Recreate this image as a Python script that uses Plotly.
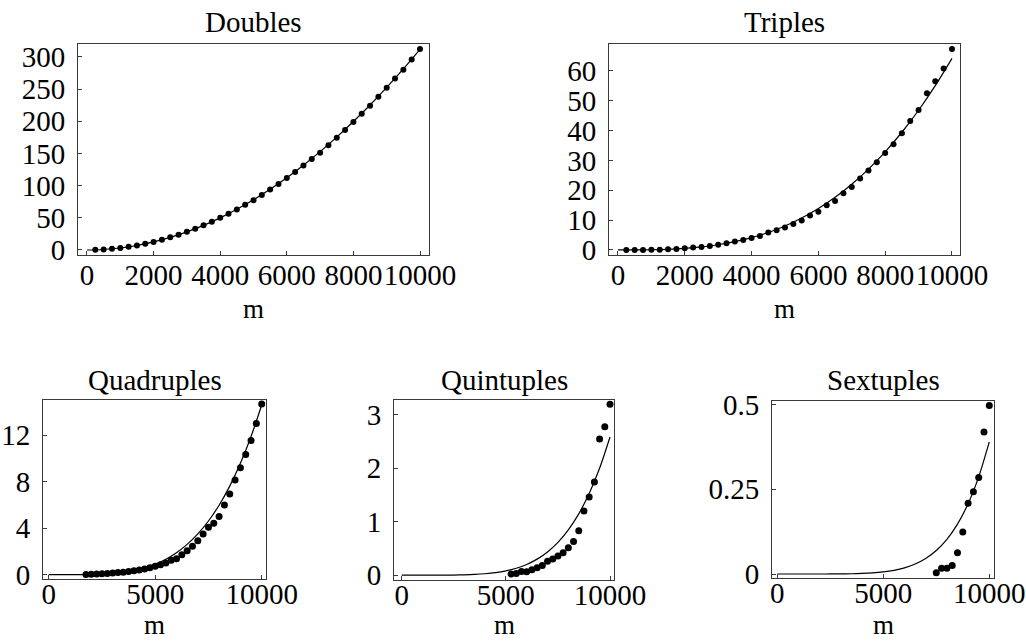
import plotly.graph_objects as go

W, H = 1026, 641

# sample sizes m for the counted points (shared grid, 250 .. 10000)
M_ALL = [250, 500, 750, 1000, 1250, 1500, 1750, 2000, 2250, 2500,
         2750, 3000, 3250, 3500, 3750, 4000, 4250, 4500, 4750, 5000,
         5250, 5500, 5750, 6000, 6250, 6500, 6750, 7000, 7250, 7500,
         7750, 8000, 8250, 8500, 8750, 9000, 9250, 9500, 9750, 10000]

# m grid for the fitted curves
M_FIT = [0, 500, 1000, 1500, 2000, 2500, 3000, 3500, 4000, 4500, 5000,
         5500, 6000, 6500, 7000, 7500, 8000, 8500, 9000, 9500, 10000]

doubles = [0.2, 0.8, 1.8, 3.1, 4.9, 7.1, 9.7, 12.6, 15.9, 19.6,
           23.7, 28.2, 33.1, 38.4, 44.0, 50.1, 56.5, 63.0, 70.2, 77.4,
           85.6, 94.1, 102.6, 111.8, 121.4, 131.2, 141.6, 151.2, 163.0, 174.6,
           186.6, 198.8, 211.8, 224.2, 238.2, 252.0, 266.6, 280.2, 296.2, 312.6]
triples = [0.0, 0.0, 0.0, 0.05, 0.1, 0.2, 0.34, 0.56, 0.78, 1.0,
           1.34, 1.7, 2.2, 2.8, 3.35, 4.0, 4.7, 5.8, 6.6, 7.5,
           8.7, 9.9, 11.5, 12.8, 15.0, 16.4, 19.0, 21.1, 23.9, 26.6,
           29.4, 32.5, 35.4, 39.1, 43.2, 46.9, 52.5, 56.5, 60.8, 67.3]
quadruples = [0.02, 0.04, 0.06, 0.08, 0.11, 0.14, 0.18, 0.22, 0.27, 0.33,
              0.40, 0.48, 0.60, 0.72, 0.86, 1.0, 1.25, 1.38, 1.72, 2.05,
              2.45, 2.92, 3.5, 4.08, 4.42, 5.0, 6.0, 6.95, 8.15, 9.2,
              10.35, 11.55, 13.0, 14.68]
quintuples = [0.02, 0.03, 0.07, 0.066, 0.10, 0.14, 0.18, 0.26, 0.30, 0.36,
              0.42, 0.51, 0.63, 0.83, 1.20, 1.46, 1.74, 2.54, 2.77, 3.19]
sextuples = [0.004, 0.017, 0.017, 0.025, 0.063, 0.124, 0.209, 0.243, 0.285,
             0.419, 0.497]

doubles_fit = [0, 0.78, 3.12, 7.02, 12.48, 19.5, 28.08, 38.22, 49.92, 63.18, 78.0,
               94.38, 112.32, 131.82, 152.88, 175.5, 199.68, 225.42, 252.72, 281.58, 312.0]
triples_fit = [0, 0.008, 0.064, 0.217, 0.514, 1.003, 1.733, 2.753, 4.109, 5.85, 8.025,
               10.68, 13.87, 17.63, 22.02, 27.08, 32.87, 39.43, 46.80, 55.04, 64.2]
quadruples_fit = [0, 0.0001, 0.0015, 0.0074, 0.0234, 0.057, 0.118, 0.219, 0.374, 0.599, 0.913,
                  1.336, 1.892, 2.606, 3.505, 4.619, 5.98, 7.621, 9.579, 11.89, 14.6]
quintuples_fit = [0, 0, 0.00003, 0.0002, 0.0008, 0.0025, 0.0063, 0.0136, 0.0264, 0.0476, 0.0806,
                  0.1299, 0.2006, 0.2993, 0.4336, 0.6122, 0.8454, 1.1447, 1.5235, 1.9964, 2.58]
sextuples_fit = [0, 0, 0, 0, 0.00003, 0.0001, 0.0003, 0.0007, 0.0016, 0.0032, 0.0061,
                 0.0108, 0.0182, 0.0294, 0.0459, 0.0694, 0.1022, 0.1472, 0.2073, 0.2868, 0.39]

titles = ["Doubles", "Triples", "Quadruples", "Quintuples", "Sextuples"]
x_ticks_top = [0, 2000, 4000, 6000, 8000, 10000]
x_ticks_bottom = [0, 5000, 10000]
y_ticks = [
    [0, 50, 100, 150, 200, 250, 300],
    [0, 10, 20, 30, 40, 50, 60],
    [0, 4, 8, 12],
    [0, 1, 2, 3],
    [0, 0.25, 0.5],
]
y_tick_text = [
    ["0", "50", "100", "150", "200", "250", "300"],
    ["0", "10", "20", "30", "40", "50", "60"],
    ["0", "4", "8", "12"],
    ["0", "1", "2", "3"],
    ["0", "0.25", "0.5"],
]

# panel frames in pixels: (left, right, top, bottom)
frames = [
    (78, 429, 44, 255),
    (609, 960, 44, 255),
    (43, 266, 400, 579),
    (394, 614, 400, 580),
    (772, 994, 401, 578),
]
x_ranges = [[-270, 10270], [-269, 10240], [-268, 10202], [-370, 10192], [-250, 10222]]
y_ranges = [[-7.8, 320.2], [-1.7, 69.0], [-0.37, 15.03], [-0.09, 3.27], [-0.0118, 0.5106]]

series = [
    (M_ALL, doubles, doubles_fit),
    (M_ALL, triples, triples_fit),
    (M_ALL[6:], quadruples, quadruples_fit),
    (M_ALL[20:], quintuples, quintuples_fit),
    (M_ALL[29:], sextuples, sextuples_fit),
]

FONT = "Liberation Serif, Times New Roman, serif"
FS = 29
FS_M = 27
FRAME = "#3a3a3a"

fig = go.Figure()
layout = dict(
    width=W, height=H,
    margin=dict(l=0, r=0, t=0, b=0, pad=0, autoexpand=False),
    paper_bgcolor="white", plot_bgcolor="white",
    showlegend=False,
    font=dict(family=FONT, size=FS, color="black"),
)
annotations = []

for i, ((mx, vals, fit), (l, r, t, b)) in enumerate(zip(series, frames)):
    k = "" if i == 0 else str(i + 1)
    xa, ya = "x" + k, "y" + k
    top_row = i < 2
    dot = 6 if top_row else 7
    fig.add_trace(go.Scatter(
        x=M_FIT, y=fit, mode="lines", xaxis=xa, yaxis=ya,
        line=dict(color="black", width=1.2, shape="spline", smoothing=0.8),
        hoverinfo="skip"))
    fig.add_trace(go.Scatter(
        x=mx, y=vals, mode="markers", xaxis=xa, yaxis=ya,
        marker=dict(color="black", size=dot, line=dict(width=0))))

    common = dict(showgrid=False, zeroline=False, showline=True, mirror=True,
                  linecolor=FRAME, linewidth=1, ticks="inside", ticklen=4,
                  tickwidth=1, tickcolor=FRAME, automargin=False,
                  ticklabeloverflow="allow", tickangle=0,
                  tickfont=dict(family=FONT, size=FS, color="black"))
    xt = x_ticks_top if top_row else x_ticks_bottom
    layout["xaxis" + k] = dict(
        common, domain=[l / W, r / W], range=x_ranges[i], anchor=ya,
        tickmode="array", tickvals=xt, ticktext=[str(v) for v in xt],
        ticklabelstandoff=-6 if top_row else -11)
    layout["yaxis" + k] = dict(
        common, domain=[1 - b / H, 1 - t / H], range=y_ranges[i], anchor=xa,
        tickmode="array", tickvals=y_ticks[i], ticktext=y_tick_text[i],
        ticklabelstandoff=6)

    cx = (l + r) / 2
    title_y = 22 if top_row else 380
    annotations.append(dict(text=titles[i], x=cx / W, y=1 - title_y / H,
                            xref="paper", yref="paper", showarrow=False,
                            xanchor="center", yanchor="middle",
                            font=dict(family=FONT, size=FS, color="black")))
    # axis label "m"; the lower row sits on the bottom edge of the page
    if top_row:
        m_pos = dict(y=1 - 309 / H, yanchor="middle")
    else:
        m_pos = dict(y=0, yanchor="bottom")
    annotations.append(dict(text="m", x=cx / W, xref="paper", yref="paper",
                            showarrow=False, xanchor="center", borderpad=0,
                            font=dict(family=FONT, size=FS_M, color="black"),
                            **m_pos))

layout["annotations"] = annotations
fig.update_layout(**layout)
fig.write_html("out.html")
